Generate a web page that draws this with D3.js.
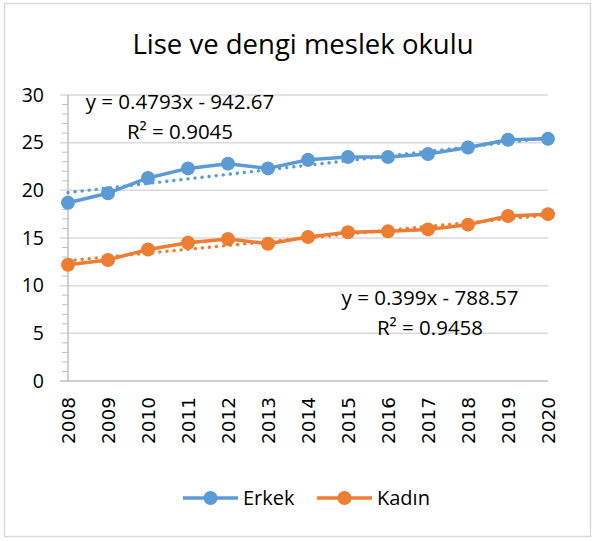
<!DOCTYPE html>
<html>
<head>
<meta charset="utf-8">
<script src="https://cdn.jsdelivr.net/npm/d3@7"></script>
<style>
  body { margin: 0; background: #fff; }
  text { fill: #000; }
</style>
</head>
<body>
<div id="chart"></div>
<script>
// data
const years = ["2008","2009","2010","2011","2012","2013","2014","2015","2016","2017","2018","2019","2020"];
const erkek = [18.7, 19.7, 21.3, 22.3, 22.8, 22.3, 23.2, 23.5, 23.5, 23.8, 24.5, 25.3, 25.4];
const kadin = [12.2, 12.7, 13.8, 14.5, 14.9, 14.4, 15.1, 15.6, 15.7, 15.9, 16.4, 17.3, 17.5];
const seriesNames = ["Erkek", "Kadın"];
const seriesColors = ["#5B9BD5", "#ED7D31"];
// trend equations as printed on the chart: [slope, intercept, r2]
const trendErkek = [0.4793, -942.67, 0.9045];
const trendKadin = [0.399, -788.57, 0.9458];
const yTicks = [0, 5, 10, 15, 20, 25, 30];

const W = 597, H = 541;
const svg = d3.select("#chart").append("svg")
    .attr("width", W)
    .attr("height", H);

// chart border
svg.append("rect")
    .attr("x", 4.5).attr("y", 3.5)
    .attr("width", 586).attr("height", 533)
    .attr("fill", "#fff")
    .attr("stroke", "#D9D9D9")
    .attr("stroke-width", 1.5);

let x = d3.scalePoint().domain(years).range([68, 548]);
let y = d3.scaleLinear().domain([0, 30]).range([381, 95]);

// title
svg.append("text")
    .attr("x", 303).attr("y", 54)
    .attr("text-anchor", "middle")
    .style("font-family", "'Open Sans', sans-serif")
    .style("font-size", "27.5px")
    .text("Lise ve dengi meslek okulu");

// gridlines
svg.append("g").selectAll("line")
    .data(yTicks.filter(d => d > 0))
    .enter().append("line")
    .attr("x1", 60).attr("x2", 548)
    .attr("y1", d => y(d)).attr("y2", d => y(d))
    .attr("stroke", "#D9D9D9")
    .attr("stroke-width", 1.5);

// minor ticks on the y axis
svg.append("g").selectAll("line")
    .data(d3.range(0, 31).filter(d => d % 5 != 0))
    .enter().append("line")
    .attr("x1", 62).attr("x2", 68)
    .attr("y1", d => y(d)).attr("y2", d => y(d))
    .attr("stroke", "#BFBFBF")
    .attr("stroke-width", 1);

// y axis line + x axis line
svg.append("line")
    .attr("x1", 68).attr("x2", 68)
    .attr("y1", y(30)).attr("y2", y(0))
    .attr("stroke", "#BFBFBF").attr("stroke-width", 1.5);
svg.append("line")
    .attr("x1", 60).attr("x2", 548)
    .attr("y1", y(0)).attr("y2", y(0))
    .attr("stroke", "#BFBFBF").attr("stroke-width", 1.5);

// y tick labels
let yAxis = d3.axisLeft(y).tickValues(yTicks).tickSize(0).tickPadding(0);
let yg = svg.append("g")
    .attr("transform", "translate(44,0)")
    .call(yAxis);
yg.select(".domain").remove();
yg.selectAll("text")
    .style("font-family", "'Open Sans', sans-serif")
    .style("font-size", "19.5px")
    .attr("fill", "#000");

// x tick labels, rotated
svg.append("g").selectAll("text")
    .data(years)
    .enter().append("text")
    .attr("transform", d => "translate(" + (x(d) + 7) + ",397) rotate(-90)")
    .attr("text-anchor", "end")
    .style("font-family", "'DejaVu Sans', sans-serif")
    .style("font-size", "18.5px")
    .text(d => d);

let line = d3.line()
    .x((d, i) => x(years[i]))
    .y(d => y(d));

let allSeries = [erkek, kadin];
let trends = [trendErkek, trendKadin];

// series lines
allSeries.forEach((s, k) => {
    svg.append("path")
        .datum(s)
        .attr("d", line)
        .attr("fill", "none")
        .attr("stroke", seriesColors[k])
        .attr("stroke-width", 3.5)
        .attr("stroke-linejoin", "round");
});

// linear trendlines (dotted)
trends.forEach((t, k) => {
    let ends = [years[0], years[years.length - 1]];
    svg.append("line")
        .attr("x1", x(ends[0])).attr("x2", x(ends[1]))
        .attr("y1", y(t[0] * +ends[0] + t[1]))
        .attr("y2", y(t[0] * +ends[1] + t[1]))
        .attr("stroke", seriesColors[k])
        .attr("stroke-width", 3.4)
        .attr("stroke-linecap", "round")
        .attr("stroke-dasharray", "0.1 7");
});

// markers
allSeries.forEach((s, k) => {
    svg.append("g").selectAll("circle")
        .data(s)
        .enter().append("circle")
        .attr("cx", (d, i) => x(years[i]))
        .attr("cy", d => y(d))
        .attr("r", 7)
        .attr("fill", seriesColors[k]);
});

// trend equation labels
let labelFont = "'Open Sans', sans-serif";
let eqs = [
    {t: trendErkek, cx: 180, y1: 109, y2: 139},
    {t: trendKadin, cx: 430, y1: 305, y2: 335}
];
eqs.forEach(e => {
    let sign = e.t[1] < 0 ? " - " : " + ";
    svg.append("text")
        .attr("x", e.cx).attr("y", e.y1)
        .attr("text-anchor", "middle")
        .style("font-family", labelFont)
        .style("font-size", "20.5px")
        .text("y = " + e.t[0] + "x" + sign + Math.abs(e.t[1]));
    svg.append("text")
        .attr("x", e.cx).attr("y", e.y2)
        .attr("text-anchor", "middle")
        .style("font-family", labelFont)
        .style("font-size", "20.5px")
        .text("R² = " + e.t[2]);
});

// legend
let legendX = [183, 317];
seriesNames.forEach((name, k) => {
    let g = svg.append("g").attr("transform", "translate(" + legendX[k] + ",498)");
    g.append("line")
        .attr("x1", 0).attr("x2", 55)
        .attr("stroke", seriesColors[k])
        .attr("stroke-width", 3.5);
    g.append("circle")
        .attr("cx", 27.5).attr("r", 7)
        .attr("fill", seriesColors[k]);
    g.append("text")
        .attr("x", 60).attr("y", 7)
        .style("font-family", labelFont)
        .style("font-size", "20px")
        .text(name);
});
</script>
</body>
</html>
